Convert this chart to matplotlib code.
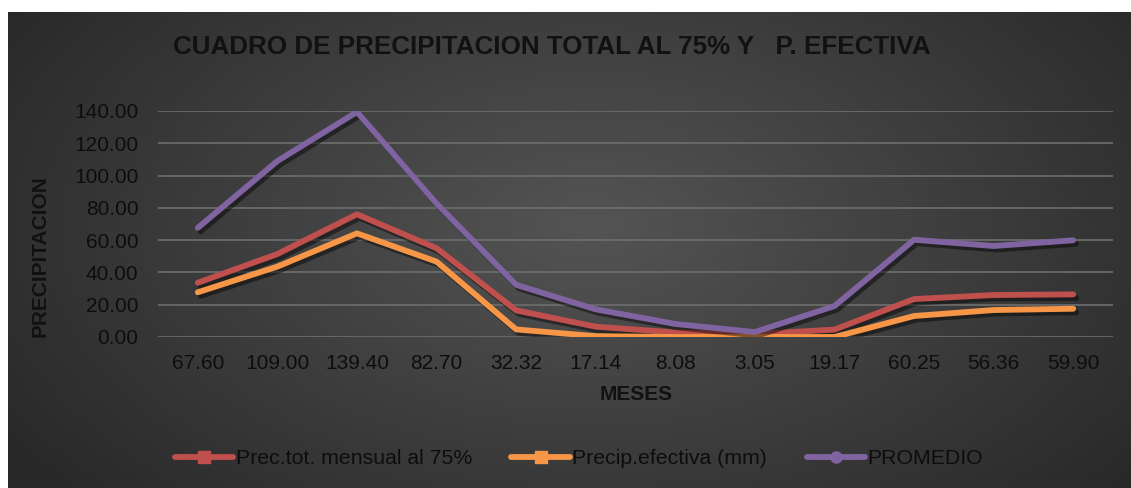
import numpy as np
import matplotlib
matplotlib.use("Agg")
import matplotlib.pyplot as plt
from matplotlib import patheffects as pe
from matplotlib.lines import Line2D

# Monthly precipitation data
meses = ["67.60", "109.00", "139.40", "82.70", "32.32", "17.14",
         "8.08", "3.05", "19.17", "60.25", "56.36", "59.90"]
prec_tot_75 = [33.6, 51.4, 76.0, 55.0, 16.5, 6.4, 2.8, 1.8, 4.6, 23.5, 26.0, 26.4]
precip_efectiva = [27.7, 43.6, 64.2, 46.7, 4.7, 0.5, 0.0, 0.0, 0.0, 13.0, 16.7, 17.5]
promedio = [67.60, 109.00, 139.40, 82.70, 32.32, 17.14, 8.08, 3.05, 19.17, 60.25, 56.36, 59.90]
yticks = [0, 20, 40, 60, 80, 100, 120, 140]

plt.rcParams["font.family"] = ["Liberation Sans", "DejaVu Sans"]

W, H = 1131, 488
fig = plt.figure(figsize=(W / 100, H / 100), dpi=100)
fig.patch.set_facecolor("white")

# Dark radial-gradient chart background
bg = fig.add_axes([8 / W, 0, 1 - 8 / W, (H - 12) / H])
bg.set_axis_off()
yy, xx = np.mgrid[0:1:300j, 0:1:700j]
r = np.sqrt(((xx - 0.52) / 0.62) ** 2 + ((yy - 0.45) / 0.85) ** 2)
shade = np.clip(0.33 - 0.17 * r, 0.16, 0.33)
img = np.dstack([shade, shade, shade])
bg.imshow(img, aspect="auto", extent=[0, 1, 0, 1], interpolation="bicubic")
bg.set_xlim(0, 1)
bg.set_ylim(0, 1)

# Plot area
ax_l, ax_r = 158, 1113
ax_b, ax_t = 337, 111
ax = fig.add_axes([ax_l / W, (H - ax_b) / H, (ax_r - ax_l) / W, (ax_b - ax_t) / H])
ax.patch.set_alpha(0)
for s in ax.spines.values():
    s.set_visible(False)

x = np.arange(len(meses))
shadow = [pe.SimpleLineShadow(offset=(2, -2.5), shadow_color="black", alpha=0.45), pe.Normal()]
series = [
    (prec_tot_75, "#C0504D", "Prec.tot. mensual al 75%", "s", 8),
    (precip_efectiva, "#F79646", "Precip.efectiva (mm)", "s", 8),
    (promedio, "#8064A2", "PROMEDIO", "o", 8),
]
for vals, col, lab, mk, ms in series:
    ax.plot(x, vals, color=col, lw=4.2, solid_capstyle="round", solid_joinstyle="round",
            path_effects=shadow, zorder=3)

ax.set_xlim(-0.5, len(meses) - 0.5)
ax.set_ylim(0, 140)
ax.set_yticks(yticks)
ax.set_yticklabels([f"{v:.2f}" for v in yticks])
ax.set_xticks(x)
ax.set_xticklabels(meses)
ax.yaxis.grid(True, color="#6e6e6e", lw=1.2)
ax.set_axisbelow(True)
ax.tick_params(axis="both", length=0, labelsize=15, labelcolor="#0d0d0d")
ax.tick_params(axis="y", pad=14)
ax.tick_params(axis="x", pad=12)

txt = "#111111"
fig.text(552 / W, (H - 47) / H, "CUADRO DE PRECIPITACION TOTAL AL 75% Y   P. EFECTIVA",
         ha="center", va="center", fontsize=18.7, fontweight="bold", color=txt)
fig.text(40 / W, (H - 256) / H, "PRECIPITACION", rotation=90, ha="center", va="center",
         fontsize=15, fontweight="bold", color=txt)
fig.text(636 / W, (H - 395) / H, "MESES", ha="center", va="center",
         fontsize=15, fontweight="bold", color=txt)

handles = [Line2D([], [], color=col, lw=4.2, marker=mk, markersize=ms,
                  markerfacecolor=col, markeredgecolor=col, solid_capstyle="round")
           for _, col, _, mk, ms in series]
labels = [lab for _, _, lab, _, _ in series]
leg = fig.legend(handles, labels, loc="center", bbox_to_anchor=(579 / W, (H - 459) / H),
                 ncol=3, frameon=False, fontsize=15.3, handlelength=2.75, handletextpad=0.12,
                 columnspacing=1.85, labelcolor="#0d0d0d")

fig.savefig("out.png", dpi=100, facecolor=fig.get_facecolor())
